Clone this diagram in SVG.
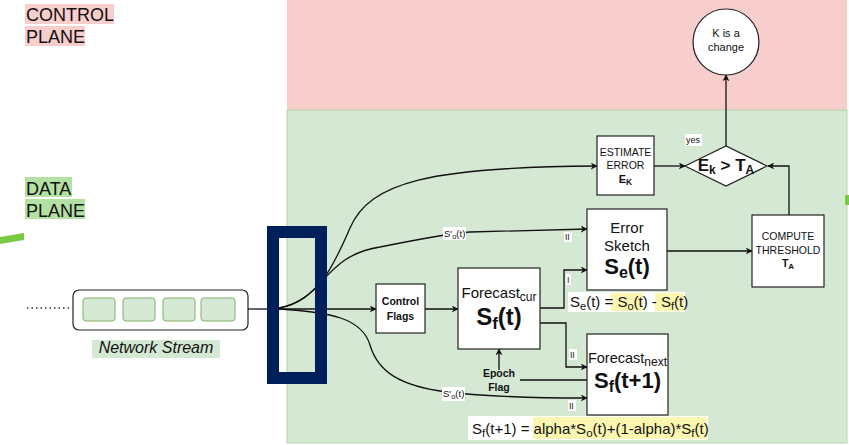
<svg xmlns="http://www.w3.org/2000/svg" width="849" height="445" viewBox="0 0 849 445">
<style>
text{font-family:"Liberation Sans",Arial,sans-serif;fill:#111}
.box{fill:#fff;stroke:#222;stroke-width:1.2}
.c{stroke:#111;stroke-width:1.3;fill:none}
.ca{stroke:#111;stroke-width:1.3;fill:none;marker-end:url(#ah)}
.m{text-anchor:middle}
.lbl{font-size:10px}
.cell{fill:#d5e8d4;stroke:#82b366;stroke-width:1}
</style>
<defs>
<marker id="ah" viewBox="0 0 10 10" refX="9" refY="5" markerWidth="7" markerHeight="7" orient="auto" markerUnits="userSpaceOnUse">
<path d="M0,0 L10,5 L0,10 L3,5 Z" fill="#111"/>
</marker>
</defs>
<rect width="849" height="445" fill="#fff"/>
<g id="planes">
<rect x="287" y="0" width="560" height="110" fill="#f8cecc"/>
<rect x="287" y="110" width="560" height="333" fill="#d5e8d4" stroke="#b9d3a8" stroke-width="1"/>
<rect x="25" y="4" width="89" height="20" fill="#f8cecc"/>
<rect x="25" y="26" width="60" height="20" fill="#f8cecc"/>
<text x="26" y="21" font-size="18">CONTROL</text>
<text x="26" y="43" font-size="18">PLANE</text>
<rect x="25" y="177" width="47" height="20" fill="#b3e0a3"/>
<rect x="25" y="199" width="60" height="20" fill="#b3e0a3"/>
<text x="26" y="195" font-size="18">DATA</text>
<text x="26" y="217" font-size="18">PLANE</text>
<polygon points="0,237 24,233 24,240 0,244" fill="#7ac943"/>
<rect x="845" y="195" width="4" height="10" fill="#7ac943"/>
</g>
<g id="network-stream">
<line x1="27" y1="308" x2="72" y2="308" stroke="#333" stroke-width="1.3" stroke-dasharray="1.5,3"/>
<rect x="73" y="290" width="175" height="40" rx="6" fill="#fff" stroke="#222" stroke-width="1.2"/>
<rect class="cell" x="83" y="298" width="32" height="23" rx="3"/>
<rect class="cell" x="123" y="298" width="32" height="23" rx="3"/>
<rect class="cell" x="163" y="298" width="32" height="23" rx="3"/>
<rect class="cell" x="201" y="298" width="34" height="23" rx="3"/>
<rect x="92" y="340" width="128" height="18" fill="#d5e8d4"/>
<text class="m" x="156" y="353" font-size="16" font-style="italic">Network Stream</text>
</g>
<g id="connectors">
<line class="c" x1="248" y1="309" x2="280" y2="309"/>
<line class="ca" x1="279" y1="309" x2="376" y2="309"/>
<path class="ca" d="M279,308 C320,300 335,262 350,228 C370,182 430,167 597,166"/>
<path class="ca" d="M279,308 C325,300 322,256 380,247 C420,239 450,233 470,232 L587,229"/>
<path class="ca" d="M279,309 C330,312 362,318 370,345 C378,372 400,386 447,392 C500,398 560,398 587,398"/>
<line class="ca" x1="425" y1="309" x2="458" y2="309"/>
<path class="ca" d="M540,308 H564 V270 H587"/>
<path class="ca" d="M540,323 H566 V367 H587"/>
<line class="ca" x1="499" y1="370" x2="499" y2="349"/>
<line class="c" x1="520" y1="380" x2="587" y2="380"/>
<line class="ca" x1="654" y1="166" x2="685" y2="166"/>
<line class="ca" x1="667" y1="251" x2="752" y2="251"/>
<path class="ca" d="M789,215 V166 H768"/>
<line class="ca" x1="726" y1="146" x2="726" y2="75"/>
<rect x="443" y="227" width="23" height="13" fill="#fff"/>
<text x="444" y="237" font-size="9.5">S'<tspan font-size="7.5" dy="2">o</tspan><tspan dy="-2">(t)</tspan></text>
<rect x="442" y="387" width="23" height="14" fill="#fff"/>
<text x="443" y="397" font-size="9.5">S'<tspan font-size="7.5" dy="2">o</tspan><tspan dy="-2">(t)</tspan></text>
<rect x="564" y="232" width="8" height="10" fill="#fff"/>
<text x="565" y="240" font-size="8.5">II</text>
<rect x="566" y="274" width="5" height="11" fill="#fff"/>
<text x="567" y="283" font-size="8.5">I</text>
<rect x="569" y="349" width="8" height="11" fill="#fff"/>
<text x="570" y="358" font-size="8.5">II</text>
<rect x="568" y="400" width="8" height="11" fill="#fff"/>
<text x="569" y="409" font-size="8.5">II</text>
<rect x="685" y="134" width="17" height="12" fill="#fff"/>
<text x="686" y="143" font-size="9">yes</text>
</g>
<g id="selector">
<rect x="273" y="232" width="48" height="146" fill="none" stroke="#00205b" stroke-width="12"/>
</g>
<g id="control-flags">
<rect class="box" x="376" y="284" width="49" height="49"/>
<text class="m" x="400.5" y="305" font-size="10.5" font-weight="bold">Control</text>
<text class="m" x="400.5" y="320" font-size="10.5" font-weight="bold">Flags</text>
</g>
<g id="forecast-cur">
<rect class="box" x="458" y="268" width="82" height="81"/>
<text class="m" x="499" y="298" font-size="15">Forecast<tspan font-size="12" dy="3">cur</tspan></text>
<text class="m" x="499" y="325" font-size="24" font-weight="bold">S<tspan font-size="17" dy="4">f</tspan><tspan dy="-4">(t)</tspan></text>
</g>
<g id="epoch-flag">
<text class="m" x="499" y="377" font-size="10.5" font-weight="bold">Epoch</text>
<text class="m" x="499" y="391" font-size="10.5" font-weight="bold">Flag</text>
</g>
<g id="error-sketch">
<rect class="box" x="587" y="209" width="80" height="81"/>
<text class="m" x="627" y="233" font-size="15">Error</text>
<text class="m" x="627" y="251" font-size="15">Sketch</text>
<text class="m" x="627" y="274" font-size="22" font-weight="bold">S<tspan font-size="16" dy="4">e</tspan><tspan dy="-4">(t)</tspan></text>
</g>
<g id="se-formula">
<rect x="568" y="292" width="117" height="20" fill="#fff"/>
<rect x="611" y="293" width="32" height="18" fill="#fbf6b0"/>
<rect x="655" y="293" width="29" height="18" fill="#fbf6b0"/>
<text x="570" y="307" font-size="15" font-family="'Liberation Serif',serif">S<tspan font-size="11" dy="3">e</tspan><tspan dy="-3">(t) = S</tspan><tspan font-size="11" dy="3">o</tspan><tspan dy="-3">(t) - S</tspan><tspan font-size="11" dy="3">f</tspan><tspan dy="-3">(t)</tspan></text>
</g>
<g id="forecast-next">
<rect class="box" x="587" y="334" width="81" height="81"/>
<text class="m" x="627.5" y="363" font-size="14.5">Forecast<tspan font-size="12" dy="3">next</tspan></text>
<text class="m" x="627.5" y="388" font-size="22" font-weight="bold">S<tspan font-size="16" dy="4">f</tspan><tspan dy="-4">(t+1)</tspan></text>
</g>
<g id="sf-formula">
<rect x="468" y="416" width="240" height="24" fill="#fff"/>
<rect x="533" y="417" width="174" height="22" fill="#fbf6b0"/>
<text x="472" y="434" font-size="15">S<tspan font-size="11.5" dy="3">f</tspan><tspan dy="-3">(t+1) = alpha*S</tspan><tspan font-size="11.5" dy="3">o</tspan><tspan dy="-3">(t)+(1-alpha)*S</tspan><tspan font-size="11.5" dy="3">f</tspan><tspan dy="-3">(t)</tspan></text>
</g>
<g id="estimate-error">
<rect class="box" x="597" y="136" width="57" height="59"/>
<text class="m" x="625.5" y="156" font-size="10.5">ESTIMATE</text>
<text class="m" x="625.5" y="169" font-size="10.5">ERROR</text>
<text class="m" x="625.5" y="183" font-size="11" font-weight="bold">E<tspan font-size="8.5" dy="2">K</tspan></text>
</g>
<g id="compare">
<polygon points="685,166 726,146 767,166 726,186" fill="#fff" stroke="#222" stroke-width="1.2"/>
<text class="m" x="726" y="171" font-size="17" font-weight="bold">E<tspan font-size="12" dy="3">k</tspan><tspan dy="-3"> &gt; T</tspan><tspan font-size="12" dy="3">A</tspan></text>
</g>
<g id="compute-threshold">
<rect class="box" x="752" y="215" width="72" height="72"/>
<text class="m" x="788" y="240" font-size="10.5">COMPUTE</text>
<text class="m" x="788" y="254" font-size="10.5">THRESHOLD</text>
<text class="m" x="788" y="267" font-size="10.5" font-weight="bold">T<tspan font-size="8" dy="2">A</tspan></text>
</g>
<g id="change">
<circle cx="726" cy="42" r="33" fill="#fff" stroke="#222" stroke-width="1.2"/>
<text class="m" x="726" y="37" font-size="11">K is a</text>
<text class="m" x="726" y="51" font-size="11">change</text>
</g>
</svg>
